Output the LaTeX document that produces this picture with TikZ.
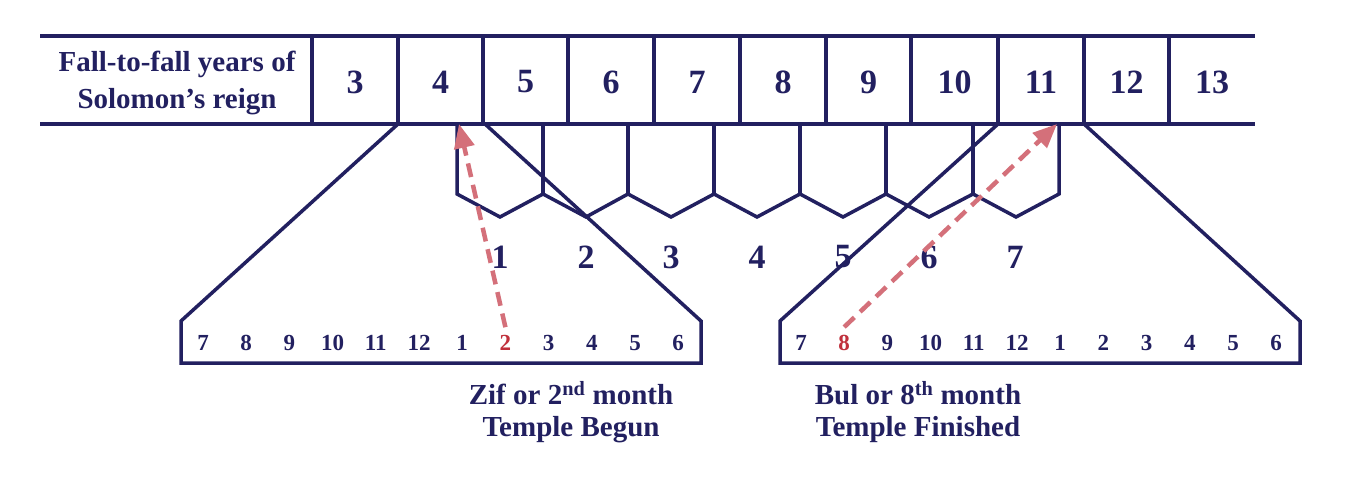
\documentclass[tikz,border=0pt]{standalone}
\usepackage{fontspec}
\setmainfont{Liberation Serif}
\usetikzlibrary{arrows.meta}
\definecolor{navy}{HTML}{222060}
\definecolor{mred}{HTML}{C0303C}
\definecolor{arrowred}{HTML}{D4707A}
\tikzset{
  frame/.style={draw=navy, line width=3.5pt, line join=miter},
  rule/.style={draw=navy, line width=4pt},
  bignum/.style={text=navy, font=\bfseries\fontsize{34}{34}\selectfont, inner sep=0pt, anchor=center},
  monthnum/.style={text=navy, font=\bfseries\fontsize{23}{23}\selectfont, inner sep=0pt, anchor=center},
  redmonth/.style={monthnum, text=mred},
  caption/.style={text=navy, font=\bfseries\fontsize{29}{32}\selectfont, align=center, inner sep=0pt},
  marker/.style={draw=arrowred, line width=4.5pt, dash pattern=on 14pt off 8pt,
    -{Triangle[length=24pt,width=20pt]}}
}
\begin{document}
\begin{tikzpicture}[x=1pt,y=-1pt]
\useasboundingbox (0,0) rectangle (1356,478);
\fill[white] (0,0) rectangle (1356,478);

% table rules
\draw[rule] (40,36) -- (1255,36);
\draw[rule] (40,124) -- (1255,124);
\foreach \x in {312,398,483,568,654,740,826,911,998,1084,1169}
  \draw[frame] (\x,36) -- (\x,124);

% label
\node[caption, font=\bfseries\fontsize{29}{37}\selectfont] (lbl) at (177,83) {Fall-to-fall years of\\Solomon’s reign};

% year numbers
\foreach \n/\x in {3/355,4/440.5,5/525.5,6/611,7/697,8/783,9/868.5,10/954.5,11/1041,12/1126.5,13/1212}
  \node[bignum] (y\n) at (\x,82) {\n};

% lunar years
\draw[frame] (457,124) -- (457,194) -- (500,217) -- (543,194) -- (586,217) -- (628,194)
  -- (671,217) -- (714,194) -- (757,217) -- (800,194) -- (843,217) -- (886,194)
  -- (929,217) -- (973,194) -- (1016,217) -- (1059,194) -- (1059,124);
\foreach \x in {543,628,714,800,886,973}
  \draw[frame] (\x,124) -- (\x,194);
\foreach \n/\x in {1/500,2/586,3/671,4/757,5/843,6/929,7/1015}
  \node[bignum] (l\n) at (\x,257) {\n};

% expanded years
\draw[frame] (398,124) -- (181,321) -- (181,363) -- (701,363) -- (701,321) -- (485,124);
\draw[frame] (998,124) -- (780,321) -- (780,363) -- (1300,363) -- (1300,321) -- (1084,124);

\foreach \m [count=\i from 0] in {7,8,9,10,11,12,1,2,3,4,5,6}{
  \pgfmathsetmacro{\xa}{203+43.2*\i}
  \pgfmathsetmacro{\xb}{801+43.2*\i}
  \ifnum\i=7
    \node[redmonth] (a\i) at (\xa,343) {\m};
  \else
    \node[monthnum] (a\i) at (\xa,343) {\m};
  \fi
  \ifnum\i=1
    \node[redmonth] (b\i) at (\xb,343) {\m};
  \else
    \node[monthnum] (b\i) at (\xb,343) {\m};
  \fi
}

% captions
\node[caption] (capL) at (571,412) {Zif or 2\textsuperscript{nd} month\\Temple Begun};
\node[caption] (capR) at (918,412) {Bul or 8\textsuperscript{th} month\\Temple Finished};

% arrows
\coordinate (tipL) at (459,124);
\coordinate (tipR) at (1057,124);
\draw[marker] ([yshift=8pt]a7.north) -- (tipL);
\draw[marker] ([yshift=8pt]b1.north) -- (tipR);
\end{tikzpicture}
\end{document}
